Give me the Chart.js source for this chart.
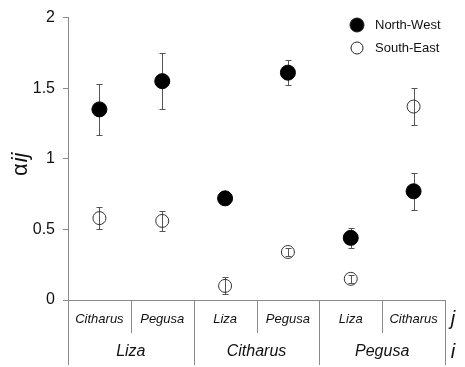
<!DOCTYPE html>
<html>
<head>
<meta charset="utf-8">
<script src="https://cdn.jsdelivr.net/npm/chart.js@4.4.0/dist/chart.umd.min.js"></script>
<style>
html, body { margin: 0; padding: 0; background: #fff; }
#wrap { width: 465px; height: 367px; }
</style>
</head>
<body>
<div id="wrap"><canvas id="chart"></canvas></div>
<script>
const jLabels = ['Citharus', 'Pegusa', 'Liza', 'Pegusa', 'Liza', 'Citharus'];
const iLabels = ['Liza', 'Citharus', 'Pegusa'];
const seriesNames = ['North-West', 'South-East'];
const northWest = [1.35, 1.55, 0.72, 1.61, 0.44, 0.77];
const northWestErr = [0.18, 0.20, 0.02, 0.09, 0.07, 0.13];
const southEast = [0.58, 0.56, 0.10, 0.34, 0.15, 1.37];
const southEastErr = [0.08, 0.07, 0.06, 0.03, 0.03, 0.13];

const FONT = "'Liberation Sans', Arial, sans-serif";
const AXIS_COLOR = '#8a8a8a';

// vertical error bars, drawn under the markers
const errorBars = {
    id: 'errorBars',
    beforeDatasetsDraw(chart) {
        const ctx = chart.ctx;
        const y = chart.scales.y;
        ctx.save();
        ctx.strokeStyle = '#555';
        ctx.lineWidth = 1;
        chart.data.datasets.forEach((ds, d) => {
            const meta = chart.getDatasetMeta(d);
            meta.data.forEach((pt, i) => {
                const e = ds.errors[i];
                if (!e) return;
                const top = Math.round(y.getPixelForValue(ds.data[i] + e)) + 0.5;
                const bot = Math.round(y.getPixelForValue(ds.data[i] - e)) + 0.5;
                const x = Math.round(pt.x) + 0.5;
                ctx.beginPath();
                ctx.moveTo(x, top); ctx.lineTo(x, bot);
                ctx.moveTo(x - 3, top); ctx.lineTo(x + 3, top);
                ctx.moveTo(x - 3, bot); ctx.lineTo(x + 3, bot);
                ctx.stroke();
            });
        });
        ctx.restore();
    }
};

// two-level category labels, y title and legend
const decorations = {
    id: 'decorations',
    afterDraw(chart) {
        const ctx = chart.ctx;
        const x = chart.scales.x;
        const area = chart.chartArea;
        const w = x.getPixelForValue(1) - x.getPixelForValue(0);
        const base = area.bottom;
        ctx.save();

        ctx.strokeStyle = AXIS_COLOR;
        ctx.lineWidth = 1;
        for (let k = 0; k <= jLabels.length; k++) {
            const bx = Math.round(x.getPixelForValue(0) - w / 2 + k * w) + 0.5;
            const len = (k % 2 === 0) ? 65 : 33;
            ctx.beginPath();
            ctx.moveTo(bx, base);
            ctx.lineTo(bx, base + len);
            ctx.stroke();
        }

        ctx.fillStyle = '#111';
        ctx.textAlign = 'center';
        ctx.textBaseline = 'middle';
        ctx.font = 'italic 13px ' + FONT;
        jLabels.forEach((lab, i) => {
            ctx.fillText(lab, x.getPixelForValue(i), base + 19);
        });
        ctx.font = 'italic 16px ' + FONT;
        iLabels.forEach((lab, g) => {
            const cx = (x.getPixelForValue(2 * g) + x.getPixelForValue(2 * g + 1)) / 2;
            ctx.fillText(lab, cx, base + 52);
        });
        ctx.font = 'italic 20px ' + FONT;
        ctx.fillText('j', 453, base + 19);
        ctx.fillText('i', 453, base + 52);

        // y axis title: alpha upright, ij italic
        ctx.translate(21, (area.top + area.bottom) / 2 + 6);
        ctx.rotate(-Math.PI / 2);
        ctx.font = '22px ' + FONT;
        const a = ctx.measureText('α').width;
        ctx.font = 'italic 22px ' + FONT;
        const b = ctx.measureText('ij').width;
        ctx.textAlign = 'left';
        ctx.font = '22px ' + FONT;
        ctx.fillText('α', -(a + b) / 2, 0);
        ctx.font = 'italic 22px ' + FONT;
        ctx.fillText('ij', -(a + b) / 2 + a + 1, 0);
        ctx.restore();

        // legend
        ctx.save();
        ctx.font = '13px ' + FONT;
        ctx.textBaseline = 'middle';
        ctx.textAlign = 'left';
        chart.data.datasets.forEach((ds, d) => {
            const ly = 25 + d * 23;
            ctx.beginPath();
            ctx.arc(357, ly, d === 0 ? 7 : 6, 0, Math.PI * 2);
            if (d === 0) { ctx.fillStyle = '#000'; ctx.fill(); }
            ctx.strokeStyle = '#222';
            ctx.lineWidth = 1;
            ctx.stroke();
            ctx.fillStyle = '#111';
            ctx.fillText(ds.label, 375, ly);
        });
        ctx.restore();
    }
};

new Chart(document.getElementById('chart'), {
    type: 'line',
    data: {
        labels: jLabels,
        datasets: [{
            label: seriesNames[0],
            data: northWest,
            errors: northWestErr,
            showLine: false,
            pointRadius: 7.5,
            pointBackgroundColor: '#000',
            pointBorderColor: '#000',
            pointBorderWidth: 1
        }, {
            label: seriesNames[1],
            data: southEast,
            errors: southEastErr,
            showLine: false,
            pointRadius: 6.5,
            pointBackgroundColor: 'rgba(0,0,0,0)',
            pointBorderColor: '#333',
            pointBorderWidth: 1
        }]
    },
    options: {
        responsive: true,
        maintainAspectRatio: false,
        animation: false,
        layout: { padding: { top: 14, right: 20, left: 0, bottom: 0 } },
        plugins: { legend: { display: false }, tooltip: { enabled: false } },
        scales: {
            x: {
                offset: true,
                grid: { display: false },
                border: { color: AXIS_COLOR },
                ticks: { display: false },
                afterFit(scale) { scale.height = 67; }
            },
            y: {
                min: 0,
                max: 2,
                ticks: {
                    stepSize: 0.5,
                    color: '#111',
                    font: { family: FONT, size: 16 },
                    padding: 8,
                    callback: (v) => String(v)
                },
                grid: { drawOnChartArea: false, tickLength: 5, color: AXIS_COLOR },
                border: { color: AXIS_COLOR },
                afterFit(scale) { scale.width = 68; }
            }
        }
    },
    plugins: [errorBars, decorations]
});
</script>
</body>
</html>
